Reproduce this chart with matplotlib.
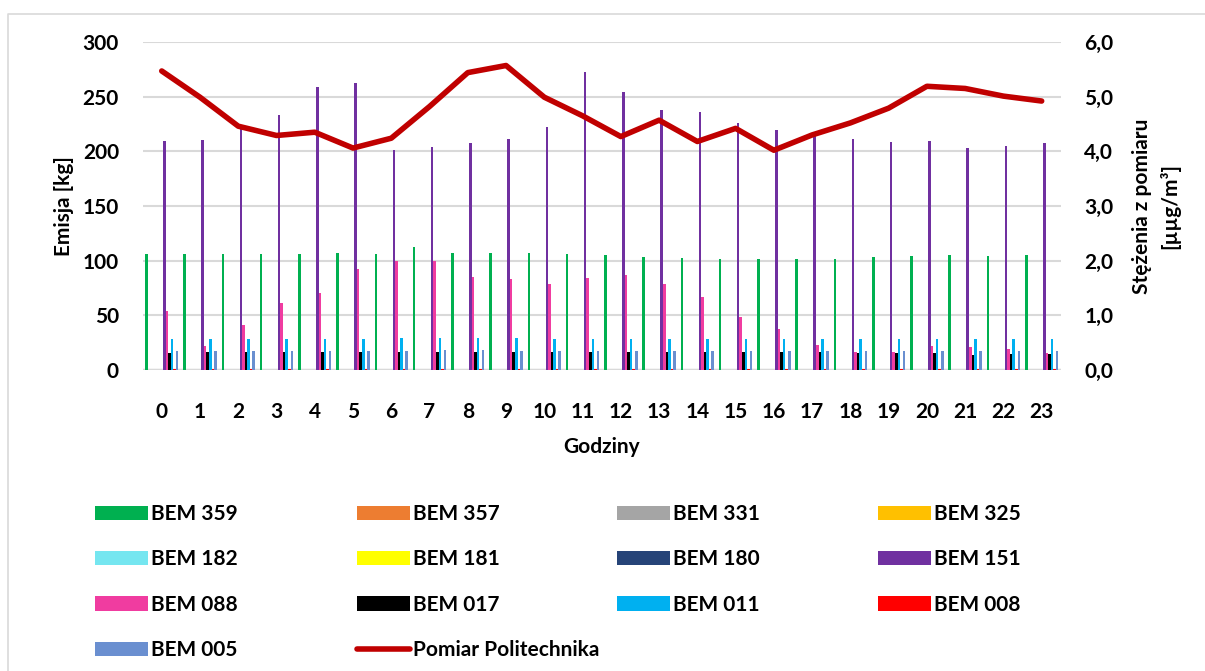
#!/usr/bin/env python3

import numpy
from matplotlib import pyplot
from matplotlib.lines import Line2D
from matplotlib.ticker import FuncFormatter

FS = 15
pyplot.rcParams["font.family"] = ["Lato", "DejaVu Sans"]
pyplot.rcParams["font.weight"] = "bold"
pyplot.rcParams["font.size"] = FS

# hours of the day
hours = list(range(24))

# emissions per source [kg]
bem359 = [105.8, 105.8, 105.8, 106.1, 106.4, 106.7, 106.4, 112.2, 107.0, 107.0, 106.7, 106.4,
		105.2, 103.0, 102.1, 101.2, 101.2, 101.5, 101.5, 103.0, 104.0, 105.2, 104.6, 105.2]
bem357 = [0, 0, 0, 0, 0, 0, 0, 0, 0, 0, 0, 0, 0, 0, 0, 0, 0, 0, 0, 0, 0, 0, 0, 0]
bem331 = [0, 0, 0, 0, 0, 0, 0, 0, 0, 0, 0, 0, 0, 0, 0, 0, 0, 0, 0, 0, 0, 0, 0, 0]
bem325 = [0, 0, 0, 0, 0, 0, 0, 0, 0, 0, 0, 0, 0, 0, 0, 0, 0, 0, 0, 0, 0, 0, 0, 0]
bem182 = [0, 0, 0, 0, 0, 0, 0, 0, 0, 0, 0, 0, 0, 0, 0, 0, 0, 0, 0, 0, 0, 0, 0, 0]
bem181 = [0, 0, 0, 0, 0, 0, 0, 0, 0, 0, 0, 0, 0, 0, 0, 0, 0, 0, 0, 0, 0, 0, 0, 0]
bem180 = [0, 0, 0, 0, 0, 0, 0, 0, 0, 0, 0, 0, 0, 0, 0, 0, 0, 0, 0, 0, 0, 0, 0, 0]
bem151 = [209.5, 210.7, 221.0, 233.0, 258.6, 262.8, 201.0, 204.0, 207.3, 211.0, 222.0, 273.0,
		254.6, 237.5, 235.7, 225.6, 219.5, 214.0, 211.6, 208.8, 209.8, 202.7, 204.9, 207.3]
bem088 = [54.0, 22.0, 41.2, 61.0, 70.7, 92.4, 100.0, 100.0, 85.0, 83.2, 79.0, 84.1,
		86.9, 79.0, 66.8, 48.8, 37.5, 23.2, 16.8, 16.5, 21.6, 21.0, 19.2, 15.9]
bem017 = [15.9, 16.2, 16.2, 16.5, 16.2, 16.8, 16.5, 16.8, 16.8, 16.5, 16.5, 16.5,
		16.5, 16.8, 16.8, 16.8, 16.5, 16.2, 15.9, 15.5, 15.2, 14.0, 14.9, 14.6]
bem011 = [28.4, 28.4, 28.4, 28.4, 28.4, 28.4, 28.9, 28.9, 28.9, 28.9, 28.4, 28.4,
		28.4, 28.4, 28.4, 28.4, 28.4, 28.4, 28.4, 28.4, 28.4, 28.4, 28.4, 28.4]
bem008 = [1.2, 1.2, 1.2, 1.2, 1.2, 1.2, 1.2, 1.2, 1.2, 1.2, 1.2, 1.2,
		1.2, 1.2, 1.2, 1.2, 1.2, 1.2, 1.2, 1.2, 1.2, 1.2, 1.2, 1.2]
bem005 = [17.7, 17.7, 17.7, 17.7, 17.7, 17.7, 17.7, 18.3, 18.3, 17.7, 17.7, 17.7,
		17.7, 17.7, 17.7, 17.7, 17.7, 17.7, 17.7, 17.7, 17.7, 17.7, 17.7, 17.7]

# measured concentration [ug/m3]
pomiar = [5.47, 4.99, 4.46, 4.29, 4.35, 4.06, 4.24, 4.82, 5.44, 5.57, 4.99, 4.65,
		4.27, 4.57, 4.18, 4.42, 4.02, 4.30, 4.52, 4.79, 5.19, 5.15, 5.01, 4.92]

series = [
	("BEM 359", bem359, "#00B050"),
	("BEM 357", bem357, "#ED7D31"),
	("BEM 331", bem331, "#A5A5A5"),
	("BEM 325", bem325, "#FFC000"),
	("BEM 182", bem182, "#75E6F0"),
	("BEM 181", bem181, "#FFFF00"),
	("BEM 180", bem180, "#264478"),
	("BEM 151", bem151, "#7030A0"),
	("BEM 088", bem088, "#F03CA0"),
	("BEM 017", bem017, "#000000"),
	("BEM 011", bem011, "#00B0F0"),
	("BEM 008", bem008, "#FF0000"),
	("BEM 005", bem005, "#6A8FD0"),
]

W, H = 1205, 671
fig = pyplot.figure(figsize = (W / 100, H / 100), dpi = 100)
ax = fig.add_axes([142.6 / W, 1 - 370 / H, (1060.8 - 142.6) / W, (370 - 42) / H])

x = numpy.arange(len(hours))
n = len(series)
bw = 0.873 / n
handles = {}
for i, (name, vals, col) in enumerate(series):
	b = ax.bar(x + (i - (n - 1) / 2) * bw, vals, width = bw, color = col,
				linewidth = 0, label = name)
	handles[name] = b

ax.set_xlim(-0.5, 23.5)
ax.set_ylim(0, 300)
ax.set_yticks(numpy.arange(0, 301, 50))
ax.set_xticks(x)
ax.set_xticklabels([str(h) for h in hours])
ax.set_axisbelow(True)
ax.yaxis.grid(True, color = "#D9D9D9", linewidth = 1.5)
for s in ax.spines.values():
	s.set_visible(False)
ax.axhline(0, color = "#D9D9D9", linewidth = 2.5, zorder = 0.5)
ax.tick_params(axis = "both", length = 0, labelsize = FS)
ax.tick_params(axis = "y", pad = 17)
ax.tick_params(axis = "x", pad = 23)
ax.set_ylabel("Emisja [kg]", fontsize = FS, fontweight = "bold", labelpad = 6)
ax.set_xlabel("Godziny", fontsize = FS, fontweight = "bold", labelpad = 11)

ax2 = ax.twinx()
line, = ax2.plot(x, pomiar, color = "#C00000", linewidth = 4,
				solid_capstyle = "round", solid_joinstyle = "round",
				label = "Pomiar Politechnika")
ax2.set_ylim(0, 6)
ax2.set_yticks(numpy.arange(0, 6.01, 1))
ax2.yaxis.set_major_formatter(FuncFormatter(lambda v, p: ("%.1f" % v).replace(".", ",")))
for s in ax2.spines.values():
	s.set_visible(False)
ax2.tick_params(axis = "y", length = 0, labelsize = FS, pad = 17)
ax2.set_ylabel("Stężenia z pomiaru\n[µµg/m³]", fontsize = FS, fontweight = "bold",
				labelpad = 13, linespacing = 1.45)

# legend laid out row by row in four even columns
handles["Pomiar Politechnika"] = line
columns = [
	["BEM 359", "BEM 182", "BEM 088", "BEM 005"],
	["BEM 357", "BEM 181", "BEM 017", "Pomiar Politechnika"],
	["BEM 331", "BEM 180", "BEM 011"],
	["BEM 325", "BEM 151", "BEM 008"],
]
col_x = [95, 357, 617, 878]
for cx, names in zip(col_x, columns):
	leg = fig.legend([handles[k] for k in names], names, loc = "upper left",
					bbox_to_anchor = (cx / W, 1 - 504 / H), frameon = False,
					borderpad = 0, borderaxespad = 0, handlelength = 2.55,
					handleheight = 0.68, handletextpad = 0.15, labelspacing = 1.22,
					prop = {"size": FS, "weight": "bold"})

# chart area border (top and left visible)
fig.add_artist(Line2D([8 / W, 8 / W, 1], [0, 1 - 14 / H, 1 - 14 / H],
						color = "#D9D9D9", linewidth = 1.2))

pyplot.savefig("out.png", dpi = 100)
pyplot.close()
